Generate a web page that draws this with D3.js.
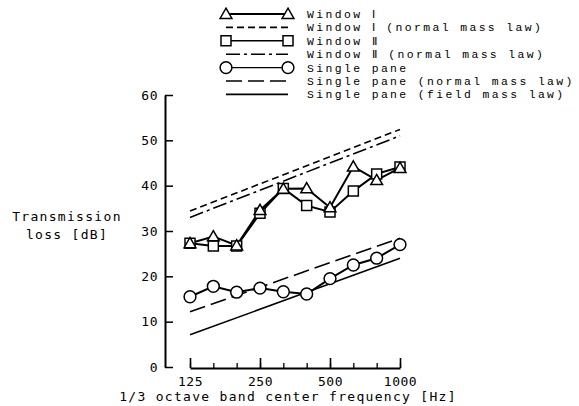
<!DOCTYPE html>
<html><head><meta charset="utf-8">
<script src="https://cdn.jsdelivr.net/npm/d3@7"></script>
<style>
body{margin:0;background:#fff;}
text{font-family:"DejaVu Sans Mono","Liberation Mono",monospace;font-size:13px;letter-spacing:1.3px;fill:#000;}
text.leg{font-family:"Liberation Mono","DejaVu Sans Mono",monospace;font-size:11.4px;letter-spacing:2.4px;}
</style></head><body>
<svg id="c" width="579" height="406"></svg>
<script>
const freqs = ["125","160","200","250","315","400","500","630","800","1000"];
const majorTicks = ["125","250","500","1000"];
const window1 = [27.3, 28.8, 26.8, 34.6, 39.3, 39.4, 35.2, 44.2, 41.2, 43.9];
const window2 = [27.3, 26.7, 26.7, 33.9, 39.4, 35.6, 34.2, 38.8, 42.6, 44.1];
const singlePane = [15.5, 17.8, 16.5, 17.4, 16.6, 16.1, 19.5, 22.5, 24.0, 27.0];
const lawFreqs = ["125","1000"];
const window1Normal = [34.4, 52.4];
const window2Normal = [33.0, 51.0];
const singleNormal = [12.2, 28.4];
const singleField = [7.1, 24.0];
const yTicks = [0,10,20,30,40,50,60];
const legendLabels = ["Window \u2160","Window \u2160 (normal mass law)","Window \u2161","Window \u2161 (normal mass law)","Single pane","Single pane (normal mass law)","Single pane (field mass law)"];

const svg = d3.select("#c");
const x = d3.scalePoint().domain(freqs).range([190,400]);
const y = d3.scaleLinear().domain([0,60]).range([367,95]);

// Y axis
const ya = svg.append("g").attr("transform","translate(165,0)")
  .call(d3.axisLeft(y).tickValues(yTicks).tickSize(-8).tickSizeOuter(0).tickPadding(7));
ya.select(".domain").attr("stroke","#000").attr("stroke-width",2);
ya.selectAll(".tick line").attr("stroke","#000").attr("stroke-width",1.5);
ya.selectAll("text").attr("font-size",13).attr("font-family",null).style("letter-spacing","0.5px");

// X axis minor
const xaMinor = svg.append("g").attr("transform","translate(0,368)")
  .call(d3.axisBottom(x).tickValues(freqs).tickSize(-5).tickSizeOuter(0).tickFormat(""));
xaMinor.select(".domain").attr("stroke","#000").attr("stroke-width",1.8);
xaMinor.selectAll(".tick line").attr("stroke","#000").attr("stroke-width",1.3);
// X axis major
const xaMajor = svg.append("g").attr("transform","translate(0,368)")
  .call(d3.axisBottom(x).tickValues(majorTicks).tickSize(-10).tickSizeOuter(0).tickPadding(9));
xaMajor.select(".domain").remove();
xaMajor.selectAll(".tick line").attr("stroke","#000").attr("stroke-width",1.6);
xaMajor.selectAll("text").attr("font-size",13).attr("font-family",null).style("letter-spacing","0.5px");

// Axis titles
svg.append("text").attr("x",288).attr("y",401).attr("text-anchor","middle").text("1/3 octave band center frequency [Hz]");
svg.append("text").attr("x",67).attr("y",221).attr("text-anchor","middle").text("Transmission");
svg.append("text").attr("x",67).attr("y",239).attr("text-anchor","middle").text("loss [dB]");

// Law lines
const lawLine = d3.line().x((d,i)=>x(lawFreqs[i])).y(d=>y(d));
function law(vals, dash){
  svg.append("path").datum(vals).attr("d",lawLine).attr("fill","none")
    .attr("stroke","#000").attr("stroke-width",1.6).attr("stroke-dasharray",dash);
}
law(window1Normal,"7,4");
law(window2Normal,"14,4,3,4");
law(singleNormal,"16,6");
law(singleField,null);

// Data series
const dataLine = d3.line().x((d,i)=>x(freqs[i])).y(d=>y(d));
function series(vals){
  svg.append("path").datum(vals).attr("d",dataLine).attr("fill","none")
    .attr("stroke","#000").attr("stroke-width",2);
}
const tri = d3.symbol().type(d3.symbolTriangle).size(60);
const sq = d3.symbol().type(d3.symbolSquare).size(100);
const circ = d3.symbol().type(d3.symbolCircle).size(110);
function markers(vals, sym, dy){
  svg.append("g").selectAll("path").data(vals).join("path")
    .attr("transform",(d,i)=>`translate(${x(freqs[i])},${y(d)+dy})`)
    .attr("d",sym).attr("fill","#fff").attr("stroke","#000").attr("stroke-width",1.5);
}
series(singlePane);
series(window2);
series(window1);
markers(singlePane, circ, 0);
markers(window2, sq, 0);
markers(window1, tri, 1);

// Legend
const lg = svg.append("g");
const rowY = i => 14 + i*13.4;
const lx0 = 226, lx1 = 288;
const legendStyles = [
  {dash:null, sym:tri, w:1.8},
  {dash:"7,4", sym:null, w:1.6},
  {dash:null, sym:sq, w:1.5},
  {dash:"14,4,3,4", sym:null, w:1.6},
  {dash:null, sym:circ, w:1.3},
  {dash:"16,6", sym:null, w:1.6},
  {dash:null, sym:null, w:1.6}
];
legendLabels.forEach((lab,i)=>{
  const st = legendStyles[i];
  lg.append("line").attr("x1",lx0).attr("x2",lx1).attr("y1",rowY(i)).attr("y2",rowY(i))
    .attr("stroke","#000").attr("stroke-width",st.w).attr("stroke-dasharray",st.dash);
  if(st.sym){
    [lx0,lx1].forEach(px=>{
      lg.append("path").attr("d",st.sym).attr("transform",`translate(${px},${rowY(i)+(st.sym===tri?1:0)})`)
        .attr("fill","#fff").attr("stroke","#000").attr("stroke-width",1.5);
    });
  }
  lg.append("text").attr("class","leg").attr("x",307).attr("y",rowY(i)+4).text(lab);
});
</script></body></html>
